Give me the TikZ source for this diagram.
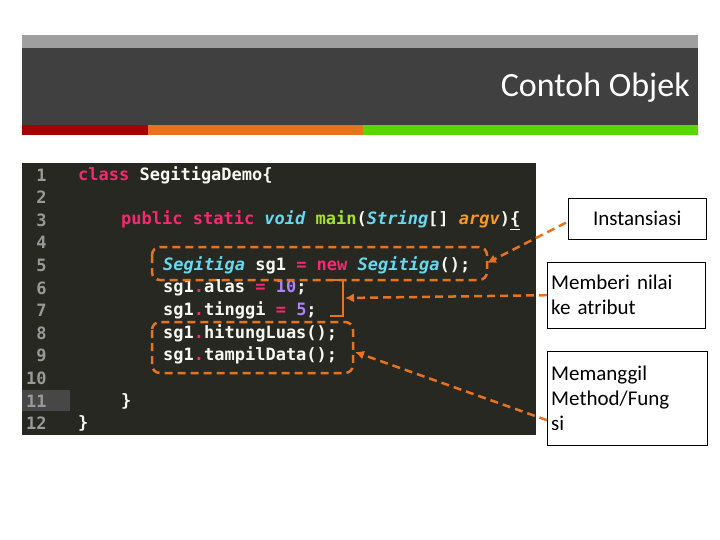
\documentclass[tikz,border=0pt]{standalone}
\usepackage{fontspec}
\usetikzlibrary{arrows.meta}
\setmainfont{Carlito}
\setmonofont{DejaVu Sans Mono}
\definecolor{mpink}{HTML}{F92672}
\definecolor{mcyan}{HTML}{66D9EF}
\definecolor{mgreen}{HTML}{A6E22E}
\definecolor{morange}{HTML}{FD971F}
\definecolor{mpurple}{HTML}{AE81FF}
\definecolor{mfg}{HTML}{F8F8F2}
\definecolor{ann}{HTML}{E8731E}
\definecolor{codebg}{HTML}{272822}
\newcommand{\pk}[1]{\textcolor{mpink}{#1}}
\newcommand{\cy}[1]{\textcolor{mcyan}{\itshape #1}}
\newcommand{\gr}[1]{\textcolor{mgreen}{#1}}
\newcommand{\og}[1]{\textcolor{morange}{\itshape #1}}
\newcommand{\pu}[1]{\textcolor{mpurple}{#1}}
\begin{document}
\begin{tikzpicture}[x=1pt,y=-1pt,
  code/.style={anchor=west,inner sep=0,text=mfg,font=\ttfamily\bfseries\fontsize{17}{17}\selectfont},
  lnum/.style={anchor=west,inner sep=0,text=gray!80,font=\ttfamily\bfseries\fontsize{17}{17}\selectfont},
  lab/.style={draw=black,fill=white,align=left,font=\fontsize{21}{25}\selectfont,inner sep=4pt,anchor=north west},
  dsh/.style={draw=ann,line width=2.5pt,dash pattern=on 8pt off 5pt},
  arr/.style={dsh,-{Latex[length=9pt,width=9pt]}}]
\useasboundingbox (0,0) rectangle (720,540);
\fill[white] (0,0) rectangle (720,540);
\fill[gray!75] (22,35) rectangle (698,48);
\fill[black!75] (22,48) rectangle (698,125);
\fill[red!65!black] (22,125) rectangle (148,135);
\fill[ann] (148,125) rectangle (363,135);
\fill[green!60!yellow!85!black] (363,125) rectangle (698,135);
\node[anchor=east,text=white,font=\fontsize{34}{34}\selectfont,inner sep=0] (title) at (690,88) {Contoh Objek};
\fill[codebg] (22,163) rectangle (536,435);
\fill[white!28!black] (22,390) rectangle (70,411);
\foreach \i in {1,...,12}{\node[lnum] (n\i) at (26,{175+(\i-1)*22.6}) {\ifnum\i<10 \ \fi\i};}
\node[code] (c1) at (78,175) {\pk{class} SegitigaDemo\{};
\node[code] (c3) at (121,220.2) {\pk{public} \pk{static} \cy{void} \gr{main}(\cy{String}[] \og{argv})\underline{\{}};
\node[code] (c5) at (163,265.4) {\cy{Segitiga} sg1 \pk{=} \pk{new} \cy{Segitiga}();};
\node[code] (c6) at (163,288) {sg1\pk{.}alas \pk{=} \pu{10};};
\node[code] (c7) at (163,310.6) {sg1\pk{.}tinggi \pk{=} \pu{5};};
\node[code] (c8) at (163,333.2) {sg1\pk{.}hitungLuas();};
\node[code] (c9) at (163,355.8) {sg1\pk{.}tampilData();};
\node[code] (c11) at (121,401) {\}};
\node[code] (c12) at (78,423.6) {\}};
\node[lab,minimum width=138pt,minimum height=41pt] (l1) at (568,198) {Instansiasi};
\node[lab,text width=150pt,minimum height=66pt] (l2) at (547,262) {Memberi nilai\\ke atribut};
\node[lab,text width=152pt,minimum height=94pt] (l3) at (547,351) {Memanggil\\Method/Fung\\si};
\draw[dsh,rounded corners=8pt] (152,247) rectangle (487,280);
\coordinate (b5) at (487,263);
\draw[draw=ann,line width=2.5pt] (330,280) -- (343,280) -- (343,316) -- (330,316);
\coordinate (b67) at (345,298);
\draw[dsh,rounded corners=8pt] (152,322) rectangle (353,373);
\coordinate (b89) at (355,352);
\draw[arr] (l1.west) ++(-2,4) -- (b5);
\draw[arr] (l2.west) -- (b67);
\draw[arr] (l3.west) ++(0,22) -- (b89);
\end{tikzpicture}
\end{document}
